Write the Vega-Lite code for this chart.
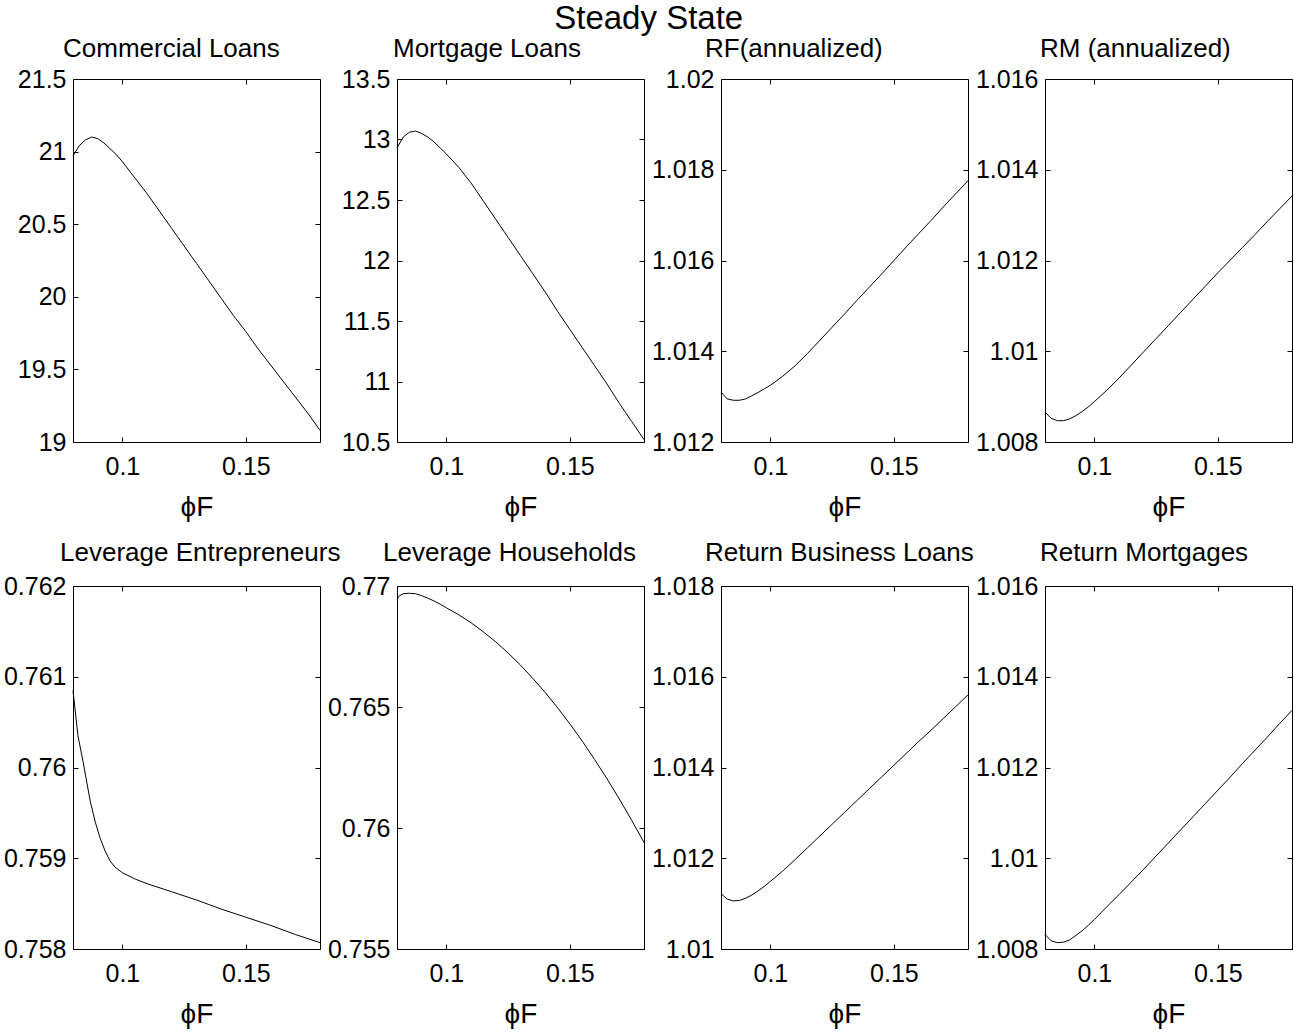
{
  "$schema": "https://vega.github.io/schema/vega-lite/v6.json",
  "padding": {"left": 2, "top": 2, "right": 0, "bottom": 0},
  "title": {"text": "Steady State", "fontSize": 33, "fontWeight": "normal", "font": "Liberation Sans", "color": "black", "anchor": "middle", "offset": 0},
  "datasets": {
    "cl": [
      {"phi": 0.08, "v": 20.97}, {"phi": 0.0825, "v": 21.04}, {"phi": 0.085, "v": 21.08}, {"phi": 0.0875, "v": 21.10}, {"phi": 0.09, "v": 21.09}, {"phi": 0.0925, "v": 21.06}, {"phi": 0.095, "v": 21.02}, {"phi": 0.0975, "v": 20.98}, {"phi": 0.1, "v": 20.93}, {"phi": 0.105, "v": 20.82}, {"phi": 0.11, "v": 20.71}, {"phi": 0.115, "v": 20.59}, {"phi": 0.12, "v": 20.47}, {"phi": 0.125, "v": 20.35}, {"phi": 0.13, "v": 20.23}, {"phi": 0.135, "v": 20.11}, {"phi": 0.14, "v": 19.99}, {"phi": 0.145, "v": 19.87}, {"phi": 0.15, "v": 19.76}, {"phi": 0.155, "v": 19.64}, {"phi": 0.16, "v": 19.53}, {"phi": 0.165, "v": 19.42}, {"phi": 0.17, "v": 19.31}, {"phi": 0.175, "v": 19.20}, {"phi": 0.18, "v": 19.08}
    ],
    "ml": [
      {"phi": 0.08, "v": 12.93}, {"phi": 0.0825, "v": 13.02}, {"phi": 0.085, "v": 13.06}, {"phi": 0.0875, "v": 13.07}, {"phi": 0.09, "v": 13.05}, {"phi": 0.0925, "v": 13.02}, {"phi": 0.095, "v": 12.98}, {"phi": 0.0975, "v": 12.93}, {"phi": 0.1, "v": 12.88}, {"phi": 0.105, "v": 12.77}, {"phi": 0.11, "v": 12.64}, {"phi": 0.115, "v": 12.49}, {"phi": 0.12, "v": 12.34}, {"phi": 0.125, "v": 12.19}, {"phi": 0.13, "v": 12.04}, {"phi": 0.135, "v": 11.89}, {"phi": 0.14, "v": 11.74}, {"phi": 0.145, "v": 11.58}, {"phi": 0.15, "v": 11.43}, {"phi": 0.155, "v": 11.28}, {"phi": 0.16, "v": 11.13}, {"phi": 0.165, "v": 10.98}, {"phi": 0.17, "v": 10.82}, {"phi": 0.175, "v": 10.67}, {"phi": 0.18, "v": 10.52}
    ],
    "rf": [
      {"phi": 0.08, "v": 1.01310}, {"phi": 0.0825, "v": 1.01295}, {"phi": 0.085, "v": 1.01292}, {"phi": 0.0875, "v": 1.01292}, {"phi": 0.09, "v": 1.01295}, {"phi": 0.0925, "v": 1.01302}, {"phi": 0.095, "v": 1.01309}, {"phi": 0.0975, "v": 1.01317}, {"phi": 0.1, "v": 1.01325}, {"phi": 0.105, "v": 1.01345}, {"phi": 0.11, "v": 1.01368}, {"phi": 0.115, "v": 1.01395}, {"phi": 0.12, "v": 1.01424}, {"phi": 0.125, "v": 1.01453}, {"phi": 0.13, "v": 1.01482}, {"phi": 0.135, "v": 1.01512}, {"phi": 0.14, "v": 1.01541}, {"phi": 0.145, "v": 1.01570}, {"phi": 0.15, "v": 1.01600}, {"phi": 0.155, "v": 1.01630}, {"phi": 0.16, "v": 1.01659}, {"phi": 0.165, "v": 1.01688}, {"phi": 0.17, "v": 1.01718}, {"phi": 0.175, "v": 1.01747}, {"phi": 0.18, "v": 1.01776}
    ],
    "rm": [
      {"phi": 0.08, "v": 1.00866}, {"phi": 0.0825, "v": 1.00852}, {"phi": 0.085, "v": 1.00847}, {"phi": 0.0875, "v": 1.00847}, {"phi": 0.09, "v": 1.00851}, {"phi": 0.0925, "v": 1.00858}, {"phi": 0.095, "v": 1.00867}, {"phi": 0.0975, "v": 1.00877}, {"phi": 0.1, "v": 1.00889}, {"phi": 0.105, "v": 1.00914}, {"phi": 0.11, "v": 1.00941}, {"phi": 0.115, "v": 1.00970}, {"phi": 0.12, "v": 1.00999}, {"phi": 0.125, "v": 1.01028}, {"phi": 0.13, "v": 1.01057}, {"phi": 0.135, "v": 1.01086}, {"phi": 0.14, "v": 1.01115}, {"phi": 0.145, "v": 1.01144}, {"phi": 0.15, "v": 1.01173}, {"phi": 0.155, "v": 1.01201}, {"phi": 0.16, "v": 1.01229}, {"phi": 0.165, "v": 1.01257}, {"phi": 0.17, "v": 1.01286}, {"phi": 0.175, "v": 1.01314}, {"phi": 0.18, "v": 1.01342}
    ],
    "le": [
      {"phi": 0.08, "v": 0.76085}, {"phi": 0.082, "v": 0.76035}, {"phi": 0.0841, "v": 0.76006}, {"phi": 0.0869, "v": 0.75964}, {"phi": 0.0889, "v": 0.75941}, {"phi": 0.091, "v": 0.75922}, {"phi": 0.093, "v": 0.75908}, {"phi": 0.095, "v": 0.75897}, {"phi": 0.0971, "v": 0.75890}, {"phi": 0.1, "v": 0.75884}, {"phi": 0.1052, "v": 0.75877}, {"phi": 0.11, "v": 0.75872}, {"phi": 0.12, "v": 0.75863}, {"phi": 0.13, "v": 0.75854}, {"phi": 0.14, "v": 0.75844}, {"phi": 0.15, "v": 0.75835}, {"phi": 0.16, "v": 0.75826}, {"phi": 0.17, "v": 0.75816}, {"phi": 0.18, "v": 0.75807}
    ],
    "lh": [
      {"phi": 0.08, "v": 0.76945}, {"phi": 0.081, "v": 0.76960}, {"phi": 0.0825, "v": 0.76968}, {"phi": 0.085, "v": 0.76970}, {"phi": 0.0875, "v": 0.76968}, {"phi": 0.09, "v": 0.76960}, {"phi": 0.0925, "v": 0.76950}, {"phi": 0.095, "v": 0.76938}, {"phi": 0.0975, "v": 0.76925}, {"phi": 0.1, "v": 0.76910}, {"phi": 0.105, "v": 0.76881}, {"phi": 0.11, "v": 0.76848}, {"phi": 0.115, "v": 0.76810}, {"phi": 0.12, "v": 0.76769}, {"phi": 0.125, "v": 0.76723}, {"phi": 0.13, "v": 0.76673}, {"phi": 0.135, "v": 0.76618}, {"phi": 0.14, "v": 0.76560}, {"phi": 0.145, "v": 0.76497}, {"phi": 0.15, "v": 0.76430}, {"phi": 0.155, "v": 0.76359}, {"phi": 0.16, "v": 0.76283}, {"phi": 0.165, "v": 0.76204}, {"phi": 0.17, "v": 0.76120}, {"phi": 0.175, "v": 0.76032}, {"phi": 0.18, "v": 0.75940}
    ],
    "rb": [
      {"phi": 0.08, "v": 1.01122}, {"phi": 0.0825, "v": 1.01110}, {"phi": 0.085, "v": 1.01106}, {"phi": 0.0875, "v": 1.01107}, {"phi": 0.09, "v": 1.01112}, {"phi": 0.0925, "v": 1.01119}, {"phi": 0.095, "v": 1.01128}, {"phi": 0.0975, "v": 1.01138}, {"phi": 0.1, "v": 1.01149}, {"phi": 0.105, "v": 1.01172}, {"phi": 0.11, "v": 1.01197}, {"phi": 0.115, "v": 1.01223}, {"phi": 0.12, "v": 1.01249}, {"phi": 0.125, "v": 1.01275}, {"phi": 0.13, "v": 1.01301}, {"phi": 0.135, "v": 1.01327}, {"phi": 0.14, "v": 1.01353}, {"phi": 0.145, "v": 1.01379}, {"phi": 0.15, "v": 1.01405}, {"phi": 0.155, "v": 1.01431}, {"phi": 0.16, "v": 1.01457}, {"phi": 0.165, "v": 1.01482}, {"phi": 0.17, "v": 1.01508}, {"phi": 0.175, "v": 1.01534}, {"phi": 0.18, "v": 1.01560}
    ],
    "rmo": [
      {"phi": 0.08, "v": 1.00832}, {"phi": 0.0825, "v": 1.00818}, {"phi": 0.085, "v": 1.00814}, {"phi": 0.0875, "v": 1.00815}, {"phi": 0.09, "v": 1.00820}, {"phi": 0.0925, "v": 1.00830}, {"phi": 0.095, "v": 1.00840}, {"phi": 0.0975, "v": 1.00852}, {"phi": 0.1, "v": 1.00865}, {"phi": 0.105, "v": 1.00893}, {"phi": 0.11, "v": 1.00920}, {"phi": 0.115, "v": 1.00948}, {"phi": 0.12, "v": 1.00976}, {"phi": 0.125, "v": 1.01005}, {"phi": 0.13, "v": 1.01034}, {"phi": 0.135, "v": 1.01063}, {"phi": 0.14, "v": 1.01092}, {"phi": 0.145, "v": 1.01121}, {"phi": 0.15, "v": 1.01150}, {"phi": 0.155, "v": 1.01179}, {"phi": 0.16, "v": 1.01209}, {"phi": 0.165, "v": 1.01238}, {"phi": 0.17, "v": 1.01267}, {"phi": 0.175, "v": 1.01297}, {"phi": 0.18, "v": 1.01326}
    ]
  },
  "columns": 4,
  "spacing": {"row": 144, "column": 77},
  "bounds": "flush",
  "concat": [
    {
      "width": 247, "height": 363,
      "title": {"text": "Commercial Loans", "anchor": "start", "frame": "group", "dx": -10, "offset": 5},
      "data": {"name": "cl"},
      "layer": [
        {"mark": {"type": "line", "color": "black", "strokeWidth": 1},
         "encoding": {
           "x": {"field": "phi", "type": "quantitative", "scale": {"domain": [0.08, 0.18], "nice": false, "zero": false}, "axis": {"orient": "bottom", "values": [0.1, 0.15], "format": ".2~f", "title": "ϕF"}},
           "y": {"field": "v", "type": "quantitative", "scale": {"domain": [19, 21.5], "nice": false, "zero": false}, "axis": {"orient": "left", "values": [19, 19.5, 20, 20.5, 21, 21.5], "format": ".1~f", "title": null}}
         }},
        {"mark": {"type": "line", "strokeOpacity": 0},
         "encoding": {
           "x": {"field": "phi", "type": "quantitative", "scale": {"domain": [0.08, 0.18], "nice": false, "zero": false}, "axis": {"orient": "top", "values": [0.1, 0.15], "labels": false, "title": null}},
           "y": {"field": "v", "type": "quantitative", "scale": {"domain": [19, 21.5], "nice": false, "zero": false}, "axis": {"orient": "right", "values": [19, 19.5, 20, 20.5, 21, 21.5], "labels": false, "title": null}}
         }}
      ],
      "resolve": {"scale": {"x": "independent", "y": "independent"}}
    },
    {
      "width": 247, "height": 363,
      "title": {"text": "Mortgage Loans", "anchor": "start", "frame": "group", "dx": -4, "offset": 5},
      "data": {"name": "ml"},
      "layer": [
        {"mark": {"type": "line", "color": "black", "strokeWidth": 1},
         "encoding": {
           "x": {"field": "phi", "type": "quantitative", "scale": {"domain": [0.08, 0.18], "nice": false, "zero": false}, "axis": {"orient": "bottom", "values": [0.1, 0.15], "format": ".2~f", "title": "ϕF"}},
           "y": {"field": "v", "type": "quantitative", "scale": {"domain": [10.5, 13.5], "nice": false, "zero": false}, "axis": {"orient": "left", "values": [10.5, 11, 11.5, 12, 12.5, 13, 13.5], "format": ".1~f", "title": null}}
         }},
        {"mark": {"type": "line", "strokeOpacity": 0},
         "encoding": {
           "x": {"field": "phi", "type": "quantitative", "scale": {"domain": [0.08, 0.18], "nice": false, "zero": false}, "axis": {"orient": "top", "values": [0.1, 0.15], "labels": false, "title": null}},
           "y": {"field": "v", "type": "quantitative", "scale": {"domain": [10.5, 13.5], "nice": false, "zero": false}, "axis": {"orient": "right", "values": [10.5, 11, 11.5, 12, 12.5, 13, 13.5], "labels": false, "title": null}}
         }}
      ],
      "resolve": {"scale": {"x": "independent", "y": "independent"}}
    },
    {
      "width": 247, "height": 363,
      "title": {"text": "RF(annualized)", "anchor": "start", "frame": "group", "dx": -16, "offset": 5},
      "data": {"name": "rf"},
      "layer": [
        {"mark": {"type": "line", "color": "black", "strokeWidth": 1},
         "encoding": {
           "x": {"field": "phi", "type": "quantitative", "scale": {"domain": [0.08, 0.18], "nice": false, "zero": false}, "axis": {"orient": "bottom", "values": [0.1, 0.15], "format": ".2~f", "title": "ϕF"}},
           "y": {"field": "v", "type": "quantitative", "scale": {"domain": [1.012, 1.02], "nice": false, "zero": false}, "axis": {"orient": "left", "values": [1.012, 1.014, 1.016, 1.018, 1.02], "format": ".3~f", "title": null}}
         }},
        {"mark": {"type": "line", "strokeOpacity": 0},
         "encoding": {
           "x": {"field": "phi", "type": "quantitative", "scale": {"domain": [0.08, 0.18], "nice": false, "zero": false}, "axis": {"orient": "top", "values": [0.1, 0.15], "labels": false, "title": null}},
           "y": {"field": "v", "type": "quantitative", "scale": {"domain": [1.012, 1.02], "nice": false, "zero": false}, "axis": {"orient": "right", "values": [1.012, 1.014, 1.016, 1.018, 1.02], "labels": false, "title": null}}
         }}
      ],
      "resolve": {"scale": {"x": "independent", "y": "independent"}}
    },
    {
      "width": 247, "height": 363,
      "title": {"text": "RM (annualized)", "anchor": "start", "frame": "group", "dx": -5, "offset": 5},
      "data": {"name": "rm"},
      "layer": [
        {"mark": {"type": "line", "color": "black", "strokeWidth": 1},
         "encoding": {
           "x": {"field": "phi", "type": "quantitative", "scale": {"domain": [0.08, 0.18], "nice": false, "zero": false}, "axis": {"orient": "bottom", "values": [0.1, 0.15], "format": ".2~f", "title": "ϕF"}},
           "y": {"field": "v", "type": "quantitative", "scale": {"domain": [1.008, 1.016], "nice": false, "zero": false}, "axis": {"orient": "left", "values": [1.008, 1.01, 1.012, 1.014, 1.016], "format": ".3~f", "title": null}}
         }},
        {"mark": {"type": "line", "strokeOpacity": 0},
         "encoding": {
           "x": {"field": "phi", "type": "quantitative", "scale": {"domain": [0.08, 0.18], "nice": false, "zero": false}, "axis": {"orient": "top", "values": [0.1, 0.15], "labels": false, "title": null}},
           "y": {"field": "v", "type": "quantitative", "scale": {"domain": [1.008, 1.016], "nice": false, "zero": false}, "axis": {"orient": "right", "values": [1.008, 1.01, 1.012, 1.014, 1.016], "labels": false, "title": null}}
         }}
      ],
      "resolve": {"scale": {"x": "independent", "y": "independent"}}
    },
    {
      "width": 247, "height": 363,
      "title": {"text": "Leverage Entrepreneurs", "anchor": "start", "frame": "group", "dx": -13, "offset": 8},
      "data": {"name": "le"},
      "layer": [
        {"mark": {"type": "line", "color": "black", "strokeWidth": 1},
         "encoding": {
           "x": {"field": "phi", "type": "quantitative", "scale": {"domain": [0.08, 0.18], "nice": false, "zero": false}, "axis": {"orient": "bottom", "values": [0.1, 0.15], "format": ".2~f", "title": "ϕF"}},
           "y": {"field": "v", "type": "quantitative", "scale": {"domain": [0.758, 0.762], "nice": false, "zero": false}, "axis": {"orient": "left", "values": [0.758, 0.759, 0.76, 0.761, 0.762], "format": ".3~f", "title": null}}
         }},
        {"mark": {"type": "line", "strokeOpacity": 0},
         "encoding": {
           "x": {"field": "phi", "type": "quantitative", "scale": {"domain": [0.08, 0.18], "nice": false, "zero": false}, "axis": {"orient": "top", "values": [0.1, 0.15], "labels": false, "title": null}},
           "y": {"field": "v", "type": "quantitative", "scale": {"domain": [0.758, 0.762], "nice": false, "zero": false}, "axis": {"orient": "right", "values": [0.758, 0.759, 0.76, 0.761, 0.762], "labels": false, "title": null}}
         }}
      ],
      "resolve": {"scale": {"x": "independent", "y": "independent"}}
    },
    {
      "width": 247, "height": 363,
      "title": {"text": "Leverage Households", "anchor": "start", "frame": "group", "dx": -14, "offset": 8},
      "data": {"name": "lh"},
      "layer": [
        {"mark": {"type": "line", "color": "black", "strokeWidth": 1},
         "encoding": {
           "x": {"field": "phi", "type": "quantitative", "scale": {"domain": [0.08, 0.18], "nice": false, "zero": false}, "axis": {"orient": "bottom", "values": [0.1, 0.15], "format": ".2~f", "title": "ϕF"}},
           "y": {"field": "v", "type": "quantitative", "scale": {"domain": [0.755, 0.77], "nice": false, "zero": false}, "axis": {"orient": "left", "values": [0.755, 0.76, 0.765, 0.77], "format": ".3~f", "title": null}}
         }},
        {"mark": {"type": "line", "strokeOpacity": 0},
         "encoding": {
           "x": {"field": "phi", "type": "quantitative", "scale": {"domain": [0.08, 0.18], "nice": false, "zero": false}, "axis": {"orient": "top", "values": [0.1, 0.15], "labels": false, "title": null}},
           "y": {"field": "v", "type": "quantitative", "scale": {"domain": [0.755, 0.77], "nice": false, "zero": false}, "axis": {"orient": "right", "values": [0.755, 0.76, 0.765, 0.77], "labels": false, "title": null}}
         }}
      ],
      "resolve": {"scale": {"x": "independent", "y": "independent"}}
    },
    {
      "width": 247, "height": 363,
      "title": {"text": "Return Business Loans", "anchor": "start", "frame": "group", "dx": -16, "offset": 8},
      "data": {"name": "rb"},
      "layer": [
        {"mark": {"type": "line", "color": "black", "strokeWidth": 1},
         "encoding": {
           "x": {"field": "phi", "type": "quantitative", "scale": {"domain": [0.08, 0.18], "nice": false, "zero": false}, "axis": {"orient": "bottom", "values": [0.1, 0.15], "format": ".2~f", "title": "ϕF"}},
           "y": {"field": "v", "type": "quantitative", "scale": {"domain": [1.01, 1.018], "nice": false, "zero": false}, "axis": {"orient": "left", "values": [1.01, 1.012, 1.014, 1.016, 1.018], "format": ".3~f", "title": null}}
         }},
        {"mark": {"type": "line", "strokeOpacity": 0},
         "encoding": {
           "x": {"field": "phi", "type": "quantitative", "scale": {"domain": [0.08, 0.18], "nice": false, "zero": false}, "axis": {"orient": "top", "values": [0.1, 0.15], "labels": false, "title": null}},
           "y": {"field": "v", "type": "quantitative", "scale": {"domain": [1.01, 1.018], "nice": false, "zero": false}, "axis": {"orient": "right", "values": [1.01, 1.012, 1.014, 1.016, 1.018], "labels": false, "title": null}}
         }}
      ],
      "resolve": {"scale": {"x": "independent", "y": "independent"}}
    },
    {
      "width": 247, "height": 363,
      "title": {"text": "Return Mortgages", "anchor": "start", "frame": "group", "dx": -5, "offset": 8},
      "data": {"name": "rmo"},
      "layer": [
        {"mark": {"type": "line", "color": "black", "strokeWidth": 1},
         "encoding": {
           "x": {"field": "phi", "type": "quantitative", "scale": {"domain": [0.08, 0.18], "nice": false, "zero": false}, "axis": {"orient": "bottom", "values": [0.1, 0.15], "format": ".2~f", "title": "ϕF"}},
           "y": {"field": "v", "type": "quantitative", "scale": {"domain": [1.008, 1.016], "nice": false, "zero": false}, "axis": {"orient": "left", "values": [1.008, 1.01, 1.012, 1.014, 1.016], "format": ".3~f", "title": null}}
         }},
        {"mark": {"type": "line", "strokeOpacity": 0},
         "encoding": {
           "x": {"field": "phi", "type": "quantitative", "scale": {"domain": [0.08, 0.18], "nice": false, "zero": false}, "axis": {"orient": "top", "values": [0.1, 0.15], "labels": false, "title": null}},
           "y": {"field": "v", "type": "quantitative", "scale": {"domain": [1.008, 1.016], "nice": false, "zero": false}, "axis": {"orient": "right", "values": [1.008, 1.01, 1.012, 1.014, 1.016], "labels": false, "title": null}}
         }}
      ],
      "resolve": {"scale": {"x": "independent", "y": "independent"}}
    }
  ],
  "config": {
    "font": "Liberation Sans",
    "background": "white",
    "view": {"stroke": "black", "strokeWidth": 1},
    "title": {"font": "Liberation Sans", "fontSize": 26, "fontWeight": "normal", "color": "black", "baseline": "alphabetic"},
    "axis": {"domain": false, "grid": false, "ticks": true, "tickColor": "black", "tickSize": -5, "tickWidth": 1, "labelFont": "Liberation Sans", "labelFontSize": 25, "labelColor": "black", "labelFlush": false, "labelOverlap": false, "labelBound": false, "titleFont": "Liberation Sans", "titleFontSize": 28, "titleFontWeight": "normal", "titleColor": "black"},
    "axisX": {"labelPadding": 17, "titlePadding": 14},
    "axisY": {"labelPadding": 12}
  }
}
